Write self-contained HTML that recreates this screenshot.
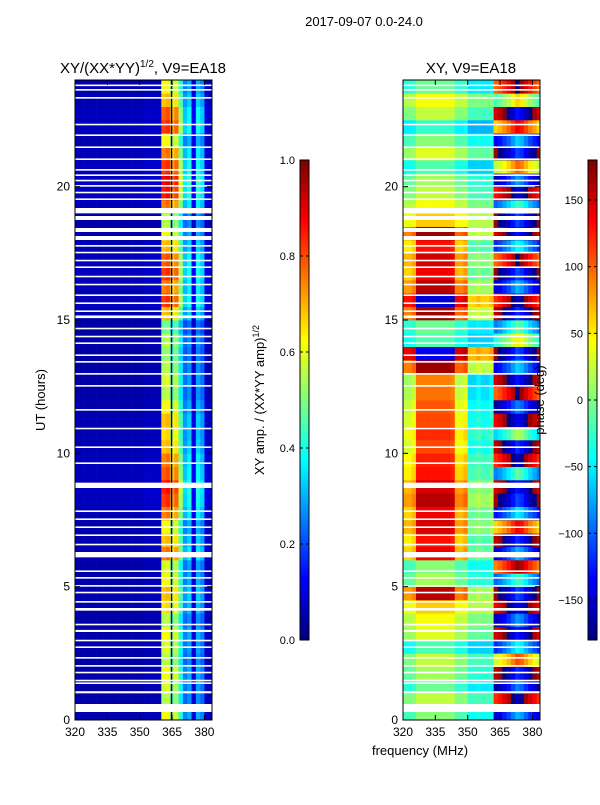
<!DOCTYPE html>
<html><head><meta charset="utf-8"><style>
body{margin:0;background:#fff;}
svg text{font-family:"Liberation Sans",sans-serif;fill:#000;}
</style></head><body>
<svg id="fig" width="600" height="800" xmlns="http://www.w3.org/2000/svg">
<rect width="600" height="800" fill="#fff"/>
<text x="364" y="26" font-size="13" text-anchor="middle">2017-09-07 0.0-24.0</text>
<text x="143" y="73" font-size="15" text-anchor="middle">XY/(XX*YY)<tspan font-size="10" dy="-6">1/2</tspan><tspan dy="6">, V9=EA18</tspan></text>
<text x="471" y="73" font-size="15" text-anchor="middle">XY, V9=EA18</text>
<g id="left"></g>
<g id="right"></g>
<g id="axes"></g>
<text transform="translate(45,400) rotate(-90)" font-size="13" text-anchor="middle">UT (hours)</text>
<text x="420" y="755" font-size="13" text-anchor="middle">frequency (MHz)</text>
<text transform="translate(264,400) rotate(-90)" font-size="13" text-anchor="middle">XY amp. / (XX*YY amp)<tspan font-size="9" dy="-5">1/2</tspan></text>
<text transform="translate(544,400) rotate(-90)" font-size="13" text-anchor="middle">phase (deg)</text>
</svg>
<script>
const freqStart = [320,322,324,326,328,330,332,334,336,338,340,342,344,346,348,350,352,354,356,358,360,362,364,366,368,370,372,374,376,378,380,382];
const ampBand = [0.05,0.05,0.05,0.05,0.05,0.05,0.05,0.05,0.05,0.05,0.05,0.05,0.05,0.05,0.05,0.05,0.06,0.06,0.06,0.06,0.68,0.7,0.6,0.65,0.45,0.28,0.33,0.1,0.33,0.28,0.08,0.06];
const ampRow = [0.9,0.8,0.85,0.9,0.8,0.85,0.9,0.8,0.95,1.0,0.9,0.85,1.1,1.0,0.9,1.1,1.2,1.25,1.15,1.1,1.0,0.95,1.0,0.9,0.8,0.85,0.8,0.75,0.8,0.7,1.0,1.2,1.1,1.2,1.15,1.0,0.9,0.8,1.1,1.25,1.3,1.2,1.1,0.9,1.2,1.15,1.0,0.9];
const phaseLowRow = [0,20,-10,10,20,-20,30,40,60,150,10,0,130,120,140,130,150,140,120,115,100,110,100,95,85,80,160,-150,-20,-10,160,-160,150,130,140,120,160,60,40,20,10,-20,30,0,-30,20,40,-10];
const phaseHighRow = [-150,120,-170,160,30,-120,150,-160,140,170,-100,90,-150,160,60,-130,170,150,-90,120,160,-60,140,-170,100,150,-140,170,-30,-90,160,120,-150,170,100,-120,150,170,-100,130,-160,20,170,-140,60,150,-20,100];
const lowOffset = [-70,-70,-60,10,10,10,10,10,10,10,10,5,-60,-60,-50,-140,-140,-130,-140,-140,-130];
const highOffset = [0,10,25,40,60,80,70,50,30,15,0];
const flags = [[0.3,0.3],[1.0,0.08],[1.35,0.06],[1.45,0.06],[1.75,0.06],[2.0,0.06],[2.3,0.06],[2.7,0.06],[2.95,0.06],[3.3,0.08],[3.55,0.06],[4.1,0.1],[4.4,0.06],[4.75,0.06],[5.0,0.06],[5.3,0.06],[5.55,0.06],[6.1,0.2],[6.55,0.06],[6.9,0.06],[7.2,0.06],[7.5,0.06],[7.8,0.06],[8.7,0.2],[9.6,0.06],[10.2,0.06],[10.9,0.06],[11.6,0.06],[12.5,0.06],[12.95,0.06],[13.4,0.06],[13.65,0.06],[14.1,0.06],[14.35,0.06],[14.65,0.06],[15.07,0.1],[15.3,0.06],[15.6,0.06],[15.9,0.06],[16.3,0.06],[16.6,0.06],[16.95,0.06],[17.2,0.06],[17.5,0.06],[17.75,0.06],[18.0,0.15],[18.3,0.15],[18.75,0.15],[19.0,0.2],[19.5,0.06],[19.75,0.06],[20.0,0.06],[20.2,0.06],[20.4,0.06],[20.6,0.06],[21.0,0.06],[21.45,0.06],[21.9,0.06],[22.3,0.06],[23.3,0.06],[23.6,0.06],[23.77,0.06]];
const yTicks = [0,5,10,15,20];
const xTicks = [320,335,350,365,380];
const ampTicks = [0.0,0.2,0.4,0.6,0.8,1.0];
const phaseTicks = [-150,-100,-50,0,50,100,150];

const NS="http://www.w3.org/2000/svg";
const T0=80,T1=720,F0=320,F1=383.5;
const yS=h=>T1-(h/24)*(T1-T0);
function xS(f,x0){return x0+(f-F0)/(F1-F0)*137;}
function jet(v){v=Math.max(0,Math.min(1,v));
 const c=t=>Math.round(255*Math.max(0,Math.min(1,1.5-Math.abs(t))));
 return `rgb(${c(4*v-3)},${c(4*v-2)},${c(4*v-1)})`;}
function mk(p,tag,at){const e=document.createElementNS(NS,tag);for(const k in at)e.setAttribute(k,at[k]);p.appendChild(e);return e;}
const wrap=p=>((p+180)%360+360)%360-180;
const L=document.getElementById('left'),R=document.getElementById('right'),A=document.getElementById('axes');
for(let t=0;t<ampRow.length;t++){
 const y1=yS((t+1)/2),y0=yS(t/2);
 for(let i=0;i<freqStart.length;i++){
  const fa=freqStart[i],fb=Math.min(fa+2,F1);
  const r=mk(L,'rect',{x:xS(fa,75),y:y1,width:xS(fb,75)-xS(fa,75)+0.3,height:y0-y1+0.3,fill:jet(ampBand[i]*ampRow[t])});
  
  
  let ph;
  if(i<lowOffset.length) ph=phaseLowRow[t]+lowOffset[i]*(Math.abs(phaseLowRow[t])>75?1:0.3);
  else ph=phaseHighRow[t]+highOffset[i-lowOffset.length];
  const r2=mk(R,'rect',{x:xS(fa,403),y:y1,width:xS(fb,403)-xS(fa,403)+0.3,height:y0-y1+0.3,fill:jet((wrap(ph)+180)/360)});
  
  
 }
}
mk(L,'rect',{x:xS(364.4,75),y:T0,width:1.5,height:T1-T0,fill:'#00007f'});
for(const [h,w] of flags){
 for(const x0 of [75,403]){
  const f=mk(x0==75?L:R,'rect',{x:x0,y:yS(h+w),width:137,height:Math.max(1.5,yS(h)-yS(h+w)),fill:'#fff'});
  
  
 }
}
for(const x0 of [75,403]){
 mk(A,'rect',{x:x0,y:T0,width:137,height:T1-T0,fill:'none',stroke:'#000','stroke-width':1});
 for(const h of yTicks){const y=yS(h);
  mk(A,'line',{x1:x0,x2:x0+5,y1:y,y2:y,stroke:'#000'});mk(A,'line',{x1:x0+137,x2:x0+132,y1:y,y2:y,stroke:'#000'});
  const tx=mk(A,'text',{x:x0-5,y:y+4,'font-size':12,'text-anchor':'end'});tx.textContent=h;
  
  }
 for(const f of xTicks){const x=xS(f,x0);
  mk(A,'line',{x1:x,x2:x,y1:T1,y2:T1-5,stroke:'#000'});mk(A,'line',{x1:x,x2:x,y1:T0,y2:T0+5,stroke:'#000'});
  const tx=mk(A,'text',{x:x,y:T1+16,'font-size':12,'text-anchor':'middle'});tx.textContent=f;
  
  }
}
function cbar(x,ticks,lo,hi,name){
 const g=mk(A,'g',{});
 
 
 for(let k=0;k<120;k++){mk(g,'rect',{x:x,y:640-(k+1)*4,width:9,height:4.3,fill:jet(k/119)});}
 mk(g,'rect',{x:x,y:160,width:9,height:480,fill:'none',stroke:'#000'});
 for(const v of ticks){const y=640-(v-lo)/(hi-lo)*480;
  mk(g,'line',{x1:x,x2:x+3,y1:y,y2:y,stroke:'#000'});mk(g,'line',{x1:x+9,x2:x+6,y1:y,y2:y,stroke:'#000'});
  const tx=mk(g,'text',{x:x-5,y:y+4,'font-size':11,'text-anchor':'end'});tx.textContent=(hi<=1?v.toFixed(1):(v<0?'\u2212'+(-v):v));
  
  }
}
cbar(300,ampTicks,0,1,'amp-colorbar');
cbar(588,phaseTicks,-180,180,'phase-colorbar');
</script>
</body></html>
